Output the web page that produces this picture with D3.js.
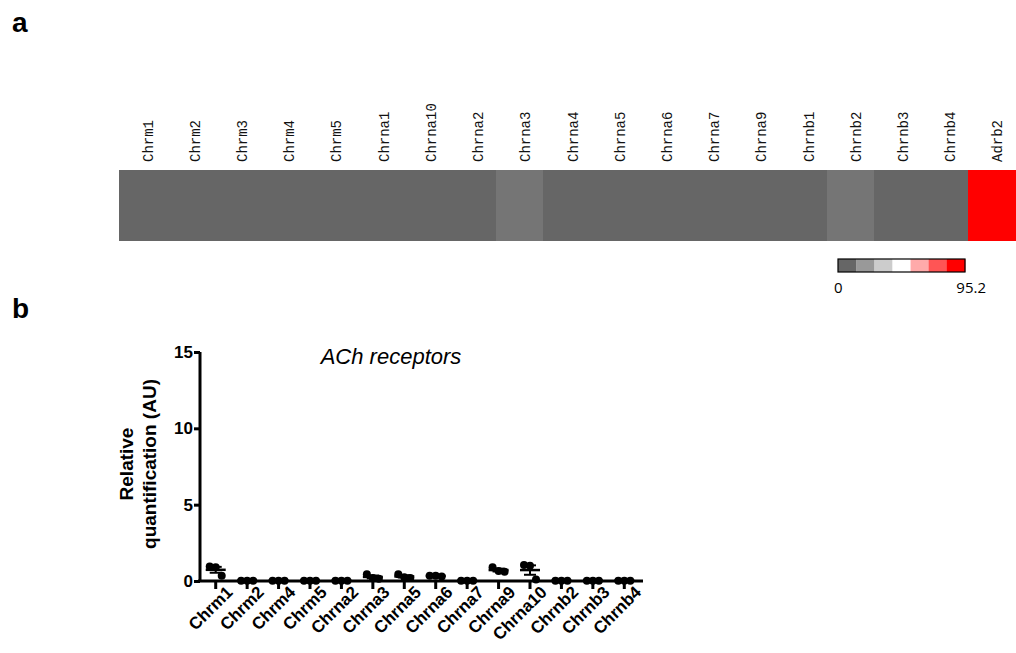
<!DOCTYPE html>
<html>
<head>
<meta charset="utf-8">
<script src="https://cdn.jsdelivr.net/npm/d3@7"></script>
<style>
  body { margin: 0; background: #fff; }
  svg { display: block; }
</style>
</head>
<body>
<div id="chart"></div>
<script>
// heatmap (panel a)
const heatGenes = ["Chrm1", "Chrm2", "Chrm3", "Chrm4", "Chrm5", "Chrna1", "Chrna10", "Chrna2", "Chrna3",
  "Chrna4", "Chrna5", "Chrna6", "Chrna7", "Chrna9", "Chrnb1", "Chrnb2", "Chrnb3", "Chrnb4", "Adrb2"];
const heatValues = [0, 0, 0, 0, 0, 0, 0, 0, 4.7, 0, 0, 0, 0, 0, 0, 4.7, 0, 0, 95.2];
const heatMax = 95.2;

// dot plot (panel b)
const genes = ["Chrm1", "Chrm2", "Chrm4", "Chrm5", "Chrna2", "Chrna3", "Chrna5", "Chrna6",
  "Chrna7", "Chrna9", "Chrna10", "Chrnb2", "Chrnb3", "Chrnb4"];
const replicates = [
  [0.95, 0.9, 0.35],
  [0.02, 0.02, 0.02],
  [0.02, 0.02, 0.02],
  [0.02, 0.02, 0.02],
  [0.02, 0.02, 0.02],
  [0.45, 0.2, 0.15],
  [0.45, 0.25, 0.2],
  [0.35, 0.35, 0.3],
  [0.02, 0.02, 0.02],
  [0.9, 0.65, 0.6],
  [1.05, 1.0, 0.1],
  [0.02, 0.02, 0.02],
  [0.02, 0.02, 0.02],
  [0.02, 0.02, 0.02]
];
const yTicks = [0, 5, 10, 15];

const svg = d3.select("#chart").append("svg")
  .attr("width", 1016)
  .attr("height", 653);

// panel letters
svg.append("text").attr("x", 12).attr("y", 32).text("a")
  .style("font", "bold 28px 'Liberation Sans', Arial, sans-serif");
svg.append("text").attr("x", 12).attr("y", 318).text("b")
  .style("font", "bold 28px 'Liberation Sans', Arial, sans-serif");

// ---- heatmap
const color = d3.scaleLinear()
  .domain([0, heatMax / 2, heatMax])
  .range(["#666666", "#ffffff", "#ff0000"]);

const hx = d3.scaleBand().domain(heatGenes).range([119, 1016]);
const hTop = 170, hBottom = 241;

svg.append("g").selectAll("rect")
  .data(heatGenes)
  .enter().append("rect")
  .attr("x", d => Math.floor(hx(d)))
  .attr("y", hTop)
  .attr("width", d => Math.ceil(hx(d) + hx.bandwidth()) - Math.floor(hx(d)))
  .attr("height", hBottom - hTop)
  .attr("shape-rendering", "crispEdges")
  .attr("fill", (d, i) => color(heatValues[i]));

svg.append("g").selectAll("text")
  .data(heatGenes)
  .enter().append("text")
  .attr("transform", d => `translate(${hx(d) + hx.bandwidth() / 2 + 10},162) rotate(-90)`)
  .text(d => d)
  .style("font", "14px 'Liberation Mono', 'Courier New', monospace")
  .attr("fill", "#111");

// colour bar
const steps = d3.range(7).map(i => i * heatMax / 6);
const cb = d3.scaleBand().domain(d3.range(7)).range([838, 965]);
svg.append("g").selectAll("rect")
  .data(steps)
  .enter().append("rect")
  .attr("x", (d, i) => cb(i))
  .attr("y", 259)
  .attr("width", cb.bandwidth() + 0.3)
  .attr("height", 13)
  .attr("fill", d => color(d));
svg.append("rect")
  .attr("x", 838).attr("y", 259).attr("width", 127).attr("height", 13)
  .attr("fill", "none").attr("stroke", "#000").attr("stroke-width", 1.2);
svg.append("text").attr("x", 834).attr("y", 293).text("0")
  .style("font", "15px 'Open Sans', sans-serif");
svg.append("text").attr("x", 986).attr("y", 293).attr("text-anchor", "end").text(heatMax)
  .style("font", "15px 'Open Sans', sans-serif");

// ---- dot plot
const x = d3.scaleBand().domain(genes).range([200, 640]);
const y = d3.scaleLinear().domain([0, 15]).range([581, 352]);
const font = "'Liberation Sans', Arial, sans-serif";

const yAxis = svg.append("g")
  .attr("transform", "translate(200,0)")
  .call(d3.axisLeft(y).tickValues(yTicks).tickSize(6).tickPadding(1));
yAxis.select(".domain").attr("stroke-width", 3).attr("d", `M0,${y(15)}V${y(0)}`);
yAxis.selectAll(".tick line").attr("stroke-width", 3);
yAxis.selectAll(".tick text").style("font", `bold 17px ${font}`).attr("fill", "#000");

const xAxis = svg.append("g")
  .attr("transform", `translate(0,${y(0)})`)
  .call(d3.axisBottom(x).tickSize(8).tickPadding(4));
xAxis.select(".domain").attr("stroke-width", 3).attr("d", "M198,0H643");
xAxis.selectAll(".tick line").attr("stroke-width", 3);
xAxis.selectAll(".tick text")
  .style("font", `bold 17px ${font}`)
  .attr("fill", "#000")
  .attr("text-anchor", "end")
  .attr("dx", "4")
  .attr("dy", "0.55em")
  .attr("transform", "rotate(-45)");

// mean and SEM
const stats = replicates.map(v => {
  const m = d3.mean(v);
  const sem = d3.deviation(v) / Math.sqrt(v.length);
  return { m, sem };
});

const g = svg.append("g");
genes.forEach((gene, i) => {
  const cx = x(gene) + x.bandwidth() / 2;
  const { m, sem } = stats[i];
  // points
  replicates[i].forEach((v, j) => {
    g.append("circle")
      .attr("cx", cx + (j - 1) * 6)
      .attr("cy", y(v))
      .attr("r", 4)
      .attr("fill", "#000");
  });
  // error bars
  g.append("line")
    .attr("x1", cx).attr("x2", cx)
    .attr("y1", y(m + sem)).attr("y2", y(m - sem))
    .attr("stroke", "#000").attr("stroke-width", 2);
  [m + sem, m - sem].forEach(e => {
    g.append("line")
      .attr("x1", cx - 6).attr("x2", cx + 6)
      .attr("y1", y(e)).attr("y2", y(e))
      .attr("stroke", "#000").attr("stroke-width", 2);
  });
  g.append("line")
    .attr("x1", cx - 10).attr("x2", cx + 10)
    .attr("y1", y(m)).attr("y2", y(m))
    .attr("stroke", "#000").attr("stroke-width", 2.5);
});

// axis title
const yt = svg.append("text")
  .attr("transform", "translate(0,464) rotate(-90)")
  .attr("text-anchor", "middle")
  .style("font", `bold 19px ${font}`);
yt.append("tspan").attr("x", 0).attr("y", 133).text("Relative");
yt.append("tspan").attr("x", 0).attr("y", 156).text("quantification (AU)");

svg.append("text")
  .attr("x", 391).attr("y", 364)
  .attr("text-anchor", "middle")
  .style("font", `italic 22px ${font}`)
  .text("ACh receptors");
</script>
</body>
</html>
